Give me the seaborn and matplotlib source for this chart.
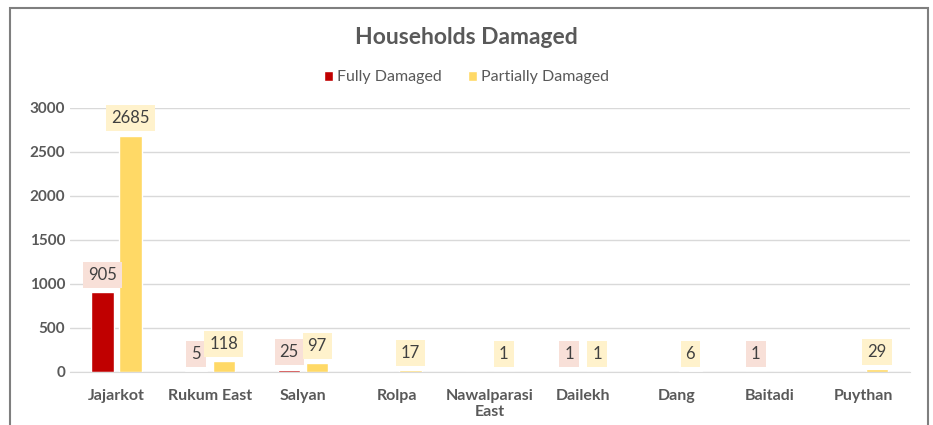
import pandas as pd
import matplotlib.pyplot as plt
import seaborn as sns
from matplotlib.patches import Rectangle

# Data
districts = ["Jajarkot", "Rukum East", "Salyan", "Rolpa", "Nawalparasi East",
             "Dailekh", "Dang", "Baitadi", "Puythan"]
fully_damaged = [905, 5, 25, 0, 0, 1, 0, 1, 0]
partially_damaged = [2685, 118, 97, 17, 1, 1, 6, 0, 29]
series_names = ["Fully Damaged", "Partially Damaged"]
yticks = [0, 500, 1000, 1500, 2000, 2500, 3000]

df = pd.DataFrame({
    "District": districts * 2,
    "Type": [series_names[0]] * len(districts) + [series_names[1]] * len(districts),
    "Households": fully_damaged + partially_damaged,
})

# Style
sns.set_style("white")
plt.rcParams["font.family"] = ["Lato", "DejaVu Sans"]

bar_colors = ["#C00000", "#FFD966"]
label_colors = ["#F8E0D8", "#FFF2CC"]
text_grey = "#595959"
grid_grey = "#D9D9D9"

fig = plt.figure(figsize=(9.33, 4.25), dpi=100)
ax = fig.add_axes([0.075, 0.125, 0.9, 0.621])

sns.barplot(
    data=df,
    x="District",
    y="Households",
    hue="Type",
    palette=bar_colors,
    saturation=1,
    width=0.6,
    gap=0.2,
    ax=ax,
)

# Data labels with coloured boxes
for container, values, bg in zip(ax.containers, [fully_damaged, partially_damaged], label_colors):
    labels = [str(v) if v != 0 else "" for v in values]
    ax.bar_label(
        container,
        labels=labels,
        padding=7,
        fontsize=12,
        color="#404040",
        bbox=dict(boxstyle="square,pad=0.3", facecolor=bg, edgecolor="none"),
    )

# Axes
ax.set_ylim(0, 3000)
ax.set_yticks(yticks)
ax.set_xlim(-0.5, len(districts) - 0.5)
ax.yaxis.grid(True, color=grid_grey, linewidth=1)
ax.set_axisbelow(True)
for side in ["top", "right", "left"]:
    ax.spines[side].set_visible(False)
ax.spines["bottom"].set_color(grid_grey)
ax.tick_params(axis="both", length=0, labelcolor=text_grey, labelsize=11)
ax.tick_params(axis="x", pad=12, labelsize=11.5)
ax.set_xticks(range(len(districts)))
ax.set_xticklabels([d.replace("Nawalparasi ", "Nawalparasi\n") for d in districts],
                   fontweight="bold", linespacing=1.2)
for t in ax.get_yticklabels():
    t.set_fontweight("bold")
ax.set_xlabel("")
ax.set_ylabel("")

# Legend
ax.legend(
    loc="center",
    bbox_to_anchor=(0.5, 0.818),
    bbox_transform=fig.transFigure,
    ncol=2,
    frameon=False,
    fontsize=11.5,
    handlelength=0.6,
    handleheight=0.6,
    handletextpad=0.25,
    columnspacing=1.6,
    labelcolor=text_grey,
)

fig.text(0.5, 0.912, "Households Damaged", ha="center", va="center",
         fontsize=16.5, fontweight="bold", color=text_grey)

# Chart border
fig.patches.append(Rectangle((10 / 933, -0.1), 918 / 933, 1.1 - 8 / 425,
                             transform=fig.transFigure, fill=False,
                             edgecolor="#7F7F7F", linewidth=1.5))

plt.savefig("out.png", dpi=100)
plt.close()
